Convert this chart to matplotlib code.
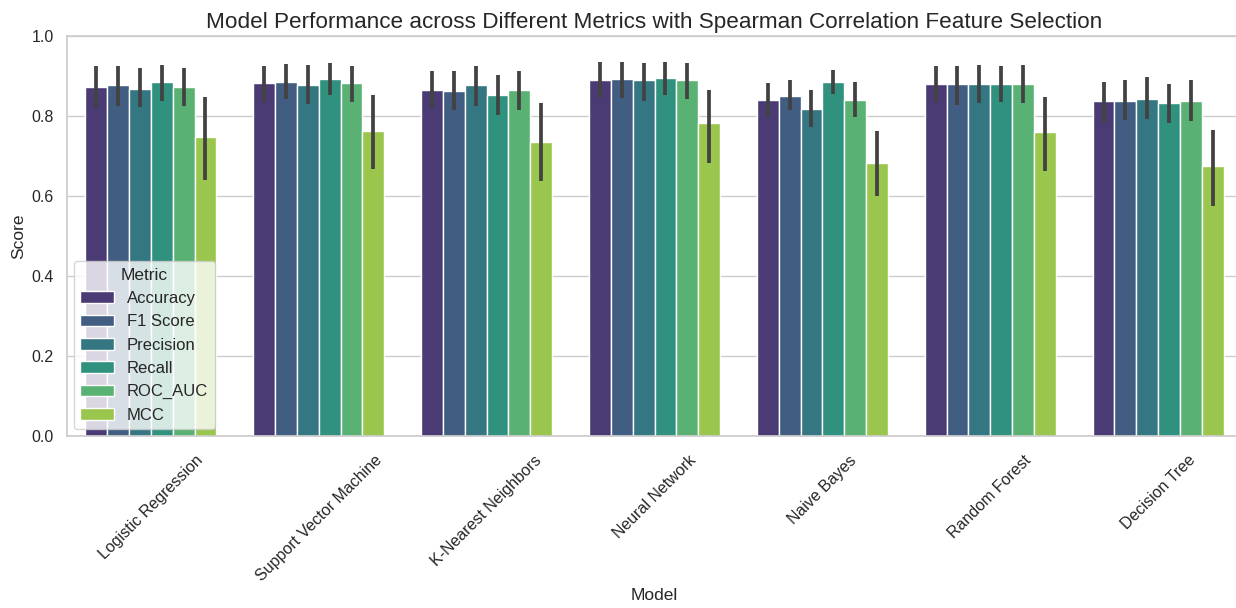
import matplotlib
matplotlib.use("Agg")
import matplotlib.pyplot as plt
import numpy as np
import seaborn as sns

models = ["Logistic Regression", "Support Vector Machine", "K-Nearest Neighbors",
          "Neural Network", "Naive Bayes", "Random Forest", "Decision Tree"]
metrics = ["Accuracy", "F1 Score", "Precision", "Recall", "ROC_AUC", "MCC"]

# mean scores, one list per metric (order follows models)
accuracy = [0.873, 0.882, 0.866, 0.889, 0.839, 0.879, 0.837]
f1_score = [0.877, 0.884, 0.863, 0.892, 0.850, 0.879, 0.837]
precision = [0.868, 0.877, 0.877, 0.889, 0.818, 0.879, 0.8425]
recall = [0.884, 0.892, 0.8525, 0.894, 0.884, 0.879, 0.832]
roc_auc = [0.873, 0.882, 0.866, 0.889, 0.839, 0.879, 0.837]
mcc = [0.747, 0.7625, 0.734, 0.782, 0.683, 0.760, 0.676]

# confidence interval bounds
acc_lo = [0.821, 0.834, 0.821, 0.847, 0.7975, 0.834, 0.784]
acc_hi = [0.926, 0.926, 0.9125, 0.936, 0.883, 0.926, 0.886]
f1_lo = [0.825, 0.842, 0.814, 0.844, 0.814, 0.828, 0.789]
f1_hi = [0.926, 0.931, 0.9125, 0.936, 0.889, 0.926, 0.889]
prec_lo = [0.8225, 0.829, 0.825, 0.838, 0.7725, 0.832, 0.792]
prec_hi = [0.920, 0.928, 0.926, 0.933, 0.865, 0.928, 0.897]
rec_lo = [0.838, 0.852, 0.802, 0.852, 0.855, 0.834, 0.782]
rec_hi = [0.928, 0.933, 0.902, 0.936, 0.915, 0.926, 0.881]
roc_lo = [0.825, 0.834, 0.814, 0.842, 0.7975, 0.832, 0.787]
roc_hi = [0.920, 0.926, 0.9125, 0.933, 0.886, 0.928, 0.889]
mcc_lo = [0.641, 0.6675, 0.638, 0.6825, 0.601, 0.6625, 0.575]
mcc_hi = [0.848, 0.852, 0.832, 0.865, 0.7625, 0.848, 0.765]

means = [accuracy, f1_score, precision, recall, roc_auc, mcc]
lows = [acc_lo, f1_lo, prec_lo, rec_lo, roc_lo, mcc_lo]
highs = [acc_hi, f1_hi, prec_hi, rec_hi, roc_hi, mcc_hi]

sns.set_theme(style="whitegrid")
plt.rcParams["font.family"] = ["Liberation Sans", "DejaVu Sans"]

palette = sns.color_palette("viridis", len(metrics), desat=0.75)

fig = plt.figure(figsize=(12.36, 6.08), dpi=100)
ax = fig.add_axes([67 / 1236, 172 / 608, 1175 / 1236, 400 / 608])

x = np.arange(len(models))
n = len(metrics)
w = 0.78 / n
for i, m in enumerate(metrics):
    pos = x - 0.39 + w * (i + 0.5)
    ax.bar(pos, means[i], width=w, color=palette[i], edgecolor="white",
           linewidth=1, label=m, zorder=2)
    ax.vlines(pos, lows[i], highs[i], color=".26", linewidth=2.7, zorder=3)

ax.set_xlim(-0.5, len(models) - 0.5)
ax.set_ylim(0, 1.0)
ax.set_xticks(x)
ax.set_xticklabels(models, rotation=45, fontsize=11.5)
ax.set_yticks([0, 0.2, 0.4, 0.6, 0.8, 1.0])
ax.tick_params(axis="y", labelsize=11.5)
ax.tick_params(axis="x", pad=6)
ax.set_xlabel("Model", fontsize=12.5, labelpad=3)
ax.set_ylabel("Score", fontsize=12.5)
ax.set_title("Model Performance across Different Metrics with Spearman Correlation Feature Selection",
             fontsize=16.2)
ax.xaxis.grid(False)
ax.legend(title="Metric", loc="lower left", fontsize=12, title_fontsize=12.5,
          borderaxespad=0.4)

fig.savefig("out.png", dpi=100)
